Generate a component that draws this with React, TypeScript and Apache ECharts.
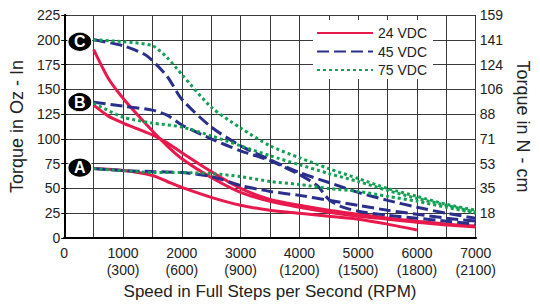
import React, { useEffect, useRef } from "react";
import * as echarts from "echarts";

// ---- Axis ticks ----
const speedTicks = [0, 1000, 2000, 3000, 4000, 5000, 6000, 7000];
const rpmTicks = ["", "(300)", "(600)", "(900)", "(1200)", "(1500)", "(1800)", "(2100)"];
const rightTickLabels = ["", "18", "35", "53", "71", "88", "106", "124", "141", "159"];
const legendNames = ["24 VDC", "45 VDC", "75 VDC"];

// ---- Curves: [speed (full steps/s), torque (oz-in)] ----
const v24A = [[500, 70], [1000, 68], [1500, 63], [1750, 57], [2000, 51], [2500, 41], [3000, 33], [3500, 28], [4000, 25], [4500, 22], [5000, 19], [5500, 14], [6000, 8]];
const v24B = [[500, 134], [750, 123], [1000, 116], [1250, 110], [1500, 104], [1750, 96], [2000, 86], [2500, 67], [3000, 50], [3500, 39], [4000, 33], [4500, 28], [5000, 24], [5500, 20], [6000, 17], [6500, 14], [7000, 12]];
const v24C = [[500, 190], [750, 161], [1000, 141], [1250, 124], [1500, 108], [1750, 93], [2000, 80], [2500, 61], [3000, 46], [3500, 37], [4000, 31], [4500, 26], [5000, 22], [5500, 19], [6000, 16], [6500, 13], [7000, 11]];

const v45A = [[500, 70], [1000, 68], [1500, 67], [2000, 66], [2500, 62], [3000, 53], [3500, 47], [4000, 43], [4500, 38], [5000, 33], [5500, 28], [6000, 24], [6500, 20], [7000, 17]];
const v45B = [[500, 137], [1000, 133], [1500, 129], [1750, 124], [2000, 114], [2500, 100], [3000, 88], [3500, 78], [4000, 64], [4300, 53], [4500, 39], [4700, 32], [5000, 27], [5500, 23], [6000, 20], [6500, 17], [7000, 14]];
const v45C = [[500, 200], [1000, 194], [1400, 184], [1750, 163], [2000, 140], [2500, 112], [3000, 93], [3500, 79], [4000, 66], [4500, 56], [5000, 46], [5500, 38], [6000, 31], [6500, 25], [7000, 20]];

const v75A = [[500, 70], [1000, 68], [1500, 66], [2000, 66], [2500, 65], [3000, 62], [3500, 57], [4000, 54], [4500, 50], [5000, 47], [5500, 42], [6000, 37], [6500, 31], [7000, 25]];
const v75B = [[500, 136], [1000, 122], [1500, 116], [2000, 112], [2500, 103], [3000, 93], [3500, 83], [4000, 74], [4500, 65], [5000, 57], [5500, 48], [6000, 40], [6500, 33], [7000, 26]];
const v75C = [[500, 200], [1000, 198], [1500, 194], [1750, 182], [2000, 165], [2500, 132], [3000, 111], [3500, 93], [4000, 81], [4500, 70], [5000, 60], [5500, 50], [6000, 42], [6500, 34], [7000, 28]];

// ---- Motor size markers ----
const markerNames = ["A", "B", "C"];
const markerSpeed = [265, 265, 265];
const markerTorque = [71, 137, 198];

const FONT = "'Liberation Sans', Arial, Helvetica, sans-serif";
const colors: Record<string, string> = {
  "24 VDC": "#E8194C",
  "45 VDC": "#2B2F8C",
  "75 VDC": "#12A052",
};
const dashes: Record<string, any> = {
  "24 VDC": "solid",
  "45 VDC": [12, 5],
  "75 VDC": [3, 3],
};

function lineSeries(name: string, data: number[][]) {
  return {
    type: "line",
    name,
    data,
    symbol: "none",
    showSymbol: false,
    smooth: 0.25,
    lineStyle: { color: colors[name], width: 3, type: dashes[name] },
    itemStyle: { color: colors[name] },
    emphasis: { disabled: true },
  };
}

export default function App() {
  const ref = useRef<HTMLDivElement>(null);
  useEffect(() => {
    document.body.style.margin = "0";
    const chart = echarts.init(ref.current!, undefined, { renderer: "svg" });
    const option: any = {
      animation: false,
      backgroundColor: "#fff",
      textStyle: { fontFamily: FONT },
      grid: { left: 62, right: 56, top: 15, bottom: 70, containLabel: false },
      legend: {
        data: legendNames,
        orient: "vertical",
        left: 313,
        top: 20,
        itemWidth: 56,
        itemHeight: 14,
        itemGap: 4.5,
        padding: [6, 6, 2, 3],
        backgroundColor: "#fff",
        itemStyle: { opacity: 0 },
        textStyle: { fontSize: 14, color: "#222", fontFamily: FONT },
        selectedMode: false,
      },
      xAxis: [
        {
          type: "value",
          position: "bottom",
          min: 0,
          max: 7000,
          interval: 500,
          axisLine: { show: true, lineStyle: { color: "#000", width: 2 } },
          axisTick: { show: false },
          axisLabel: {
            interval: 0,
            margin: 6,
            fontSize: 14,
            lineHeight: 17,
            color: "#222",
            fontFamily: FONT,
            formatter: (v: number) => {
              const i = speedTicks.indexOf(v);
              if (i < 0) return "";
              return rpmTicks[i] ? `${v}\n${rpmTicks[i]}` : `${v}`;
            },
          },
          splitLine: { show: true, lineStyle: { color: "#3a3a3a", width: 1 } },
          name: "Speed in Full Steps per Second (RPM)",
          nameLocation: "middle",
          nameGap: 41,
          nameTextStyle: { fontSize: 17, color: "#222", fontFamily: FONT },
        },
        {
          type: "value",
          position: "top",
          min: 0,
          max: 7000,
          axisLine: { show: true, lineStyle: { color: "#000", width: 2 } },
          axisTick: { show: false },
          axisLabel: { show: false },
          splitLine: { show: false },
        },
      ],
      yAxis: [
        {
          type: "value",
          position: "left",
          min: 0,
          max: 225,
          interval: 25,
          axisLine: { show: true, lineStyle: { color: "#000", width: 2 } },
          axisTick: { show: true, length: 3, lineStyle: { color: "#000" } },
          axisLabel: { margin: 4, fontSize: 14, color: "#222", fontFamily: FONT },
          splitLine: { show: true, lineStyle: { color: "#3a3a3a", width: 1 } },
          name: "Torque in Oz - In",
          nameLocation: "middle",
          nameRotate: 90,
          nameGap: 34,
          nameTextStyle: { fontSize: 18, color: "#222", fontFamily: FONT },
        },
        {
          type: "value",
          position: "right",
          min: 0,
          max: 225,
          interval: 25,
          axisLine: { show: true, lineStyle: { color: "#000", width: 1.5 } },
          axisTick: { show: true, length: 3, lineStyle: { color: "#000" } },
          axisLabel: {
            margin: 4,
            fontSize: 14,
            color: "#222",
            fontFamily: FONT,
            formatter: (v: number) => rightTickLabels[Math.round(v / 25)] ?? "",
          },
          splitLine: { show: false },
          name: "Torque in N - cm",
          nameLocation: "middle",
          nameRotate: -90,
          nameGap: 36,
          nameTextStyle: { fontSize: 18, color: "#222", fontFamily: FONT },
        },
      ],
      series: [
        lineSeries("24 VDC", v24A),
        lineSeries("24 VDC", v24B),
        lineSeries("24 VDC", v24C),
        lineSeries("45 VDC", v45A),
        lineSeries("45 VDC", v45B),
        lineSeries("45 VDC", v45C),
        lineSeries("75 VDC", v75A),
        lineSeries("75 VDC", v75B),
        lineSeries("75 VDC", v75C),
        {
          type: "scatter",
          name: "markers",
          z: 10,
          symbol: "circle",
          symbolSize: [24, 19],
          itemStyle: { color: "#000", opacity: 1, borderColor: "#fff", borderWidth: 1 },
          label: {
            show: true,
            position: "inside",
            formatter: "{b}",
            color: "#fff",
            fontWeight: "bold",
            fontSize: 16,
            fontFamily: FONT,
          },
          emphasis: { disabled: true },
          data: markerNames.map((n, i) => ({ name: n, value: [markerSpeed[i], markerTorque[i]] })),
        },
      ],
    };
    chart.setOption(option);
    return () => chart.dispose();
  }, []);
  return <div ref={ref} style={{ width: 540, height: 308 }} />;
}
